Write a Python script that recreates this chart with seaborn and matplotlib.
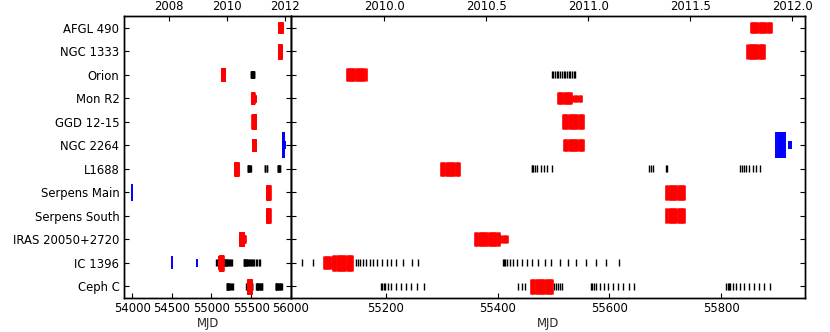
import numpy as np
import pandas as pd
import matplotlib
matplotlib.use("Agg")
import matplotlib.pyplot as plt
import seaborn as sns

# ---------------- data ----------------
regions = ["AFGL 490", "NGC 1333", "Orion", "Mon R2", "GGD 12-15", "NGC 2264",
           "L1688", "Serpens Main", "Serpens South", "IRAS 20050+2720",
           "IC 1396", "Ceph C"]

afgl490_red = [55853, 55855, 55857, 55859, 55861, 55863, 55865, 55867, 55869,
               55871, 55873, 55875, 55877, 55879, 55881, 55883, 55885, 55887, 55889]
ngc1333_red = [55847, 55849, 55851, 55853, 55855, 55857, 55859, 55861, 55863,
               55865, 55867, 55869, 55871, 55873, 55875, 55877]
orion_red = [55130, 55132, 55134, 55136, 55138, 55140, 55142, 55144, 55146,
             55148, 55150, 55152, 55154, 55156, 55158, 55160, 55162, 55164]
orion_black = [55497, 55500, 55503, 55506, 55509, 55512, 55515, 55518, 55521,
               55524, 55527, 55530, 55533, 55536, 55539]
monr2_red_a = [55508, 55510, 55512, 55514, 55516, 55518, 55520, 55522, 55524,
               55526, 55528, 55530, 55532]
monr2_red_b = [55535, 55538, 55541, 55544, 55547, 55550]
ggd_red = [55517, 55519, 55521, 55523, 55525, 55527, 55529, 55531, 55533,
           55535, 55537, 55539, 55541, 55543, 55545, 55547, 55549, 55551, 55553]
ngc2264_red = [55519, 55521, 55523, 55525, 55527, 55529, 55531, 55533, 55535,
               55537, 55539, 55541, 55543, 55545, 55547, 55549, 55551, 55553]
ngc2264_blue_a = [55899, 55901, 55903, 55905, 55907, 55909, 55911, 55913, 55915]
ngc2264_blue_b = [55921, 55923, 55925]
l1688_red = [55299, 55301, 55303, 55305, 55307, 55309, 55311, 55313, 55315,
             55317, 55319, 55321, 55323, 55325, 55327, 55329, 55331]
l1688_black = [55461, 55462.5, 55464, 55466.5, 55471, 55477, 55483, 55489, 55497,
               55671, 55674, 55678, 55701, 55703,
               55834.5, 55837.5, 55840.5, 55844.5, 55850.5, 55856.5, 55862.5, 55870]
serpmain_red = [55702, 55704, 55706, 55708, 55710, 55712, 55714, 55716, 55718,
                55720, 55722, 55724, 55726, 55728, 55730, 55732, 55734]
serpmain_blue = [54002]
serpsouth_red = [55702, 55704, 55706, 55708, 55710, 55712, 55714, 55716, 55718,
                 55720, 55722, 55724, 55726, 55728, 55730, 55732, 55734]
iras_red_a = [55360, 55362, 55364, 55366, 55368, 55370, 55372, 55374, 55376,
              55378, 55380, 55382, 55384, 55386, 55388, 55390, 55392, 55394,
              55396, 55398, 55400, 55402]
iras_red_b = [55405, 55408, 55411, 55414, 55417]
ic1396_blue_a = [54498]
ic1396_blue_b = [54821]
ic1396_red_a = [55089, 55091, 55093, 55095, 55097, 55099, 55101, 55103]
ic1396_red_b = [55106, 55108, 55110, 55112, 55114, 55116, 55118, 55120, 55122,
                55124, 55126, 55128, 55130, 55132, 55134, 55136, 55138, 55140]
ic1396_black = [55051, 55070,
                55146.5, 55150, 55154, 55159, 55165, 55171, 55178, 55185, 55193,
                55202, 55209.5, 55218.5, 55231.5, 55246.5, 55258,
                55409, 55411.5, 55413.5, 55417, 55422, 55428, 55435, 55443,
                55452, 55462.5, 55472.5, 55484.5, 55496.5, 55511.5, 55526,
                55541, 55559, 55577, 55594.5, 55617]
cephc_red = [55460, 55462, 55464, 55466, 55468, 55470, 55472, 55474, 55476,
             55478, 55480, 55482, 55484, 55486, 55488, 55490, 55492, 55494,
             55496, 55498]
cephc_black = [55191.5, 55194, 55196.5, 55199, 55203.5, 55209.5, 55218.5,
               55227.5, 55236.5, 55245, 55255.5, 55269,
               55437, 55443, 55450,
               55500.5, 55504, 55507.5, 55511.5, 55515.5,
               55566.5, 55569.5, 55572.5, 55577, 55582.5, 55590, 55597.5,
               55606.5, 55615.5, 55624.5, 55634.5, 55644,
               55809, 55811.5, 55813.5, 55816.5, 55820.5, 55827, 55834,
               55841.5, 55850.5, 55859.5, 55868.5, 55877.5, 55886.5]

left_mjd_ticks = [54000, 54500, 55000, 55500, 56000]
right_mjd_ticks = [55200, 55400, 55600, 55800]
left_year_ticks = [2008, 2010, 2012]
right_year_ticks = [2010.0, 2010.5, 2011.0, 2011.5, 2012.0]

# ---------------- styling table (region, colour, marker size pt, dates) -----
groups = [
    ("AFGL 490", "red", 7.8, afgl490_red),
    ("NGC 1333", "red", 10.5, ngc1333_red),
    ("Orion", "red", 9.5, orion_red),
    ("Orion", "black", 5.0, orion_black),
    ("Mon R2", "red", 8.6, monr2_red_a),
    ("Mon R2", "red", 5.0, monr2_red_b),
    ("GGD 12-15", "red", 10.5, ggd_red),
    ("NGC 2264", "red", 8.8, ngc2264_red),
    ("NGC 2264", "blue", 19.0, ngc2264_blue_a),
    ("NGC 2264", "blue", 6.0, ngc2264_blue_b),
    ("L1688", "red", 10.0, l1688_red),
    ("L1688", "black", 5.0, l1688_black),
    ("Serpens Main", "red", 10.5, serpmain_red),
    ("Serpens Main", "blue", 12.0, serpmain_blue),
    ("Serpens South", "red", 10.5, serpsouth_red),
    ("IRAS 20050+2720", "red", 10.0, iras_red_a),
    ("IRAS 20050+2720", "red", 6.0, iras_red_b),
    ("IC 1396", "blue", 9.5, ic1396_blue_a),
    ("IC 1396", "blue", 6.0, ic1396_blue_b),
    ("IC 1396", "red", 9.5, ic1396_red_a),
    ("IC 1396", "red", 11.2, ic1396_red_b),
    ("IC 1396", "black", 5.0, ic1396_black),
    ("Ceph C", "red", 10.8, cephc_red),
    ("Ceph C", "black", 5.0, cephc_black),
]

rows = []
for reg, col, ms, dates in groups:
    for d in dates:
        rows.append({"mjd": d, "y": regions.index(reg), "color": col, "ms": ms})
df = pd.DataFrame(rows)

line_w = {"red": 1.9, "black": 1.0, "blue": 1.4}


def mjd_from_year(yr):
    return 51544.5 + (yr - 2000.0) * 365.25


sns.set_style("ticks")
plt.rcParams["font.family"] = ["DejaVu Sans"]
FS = 8.4
plt.rcParams.update({
    "xtick.direction": "in", "ytick.direction": "in",
    "xtick.major.size": 3.5, "ytick.major.size": 3.5,
    "xtick.major.width": 0.8, "ytick.major.width": 0.8,
    "axes.linewidth": 1.0, "axes.edgecolor": "black",
    "xtick.color": "black", "ytick.color": "black",
    "xtick.labelsize": FS, "ytick.labelsize": FS, "axes.labelsize": FS,
})

fig = plt.figure(figsize=(8.3, 3.32), dpi=100)
b = 1 - 298 / 332
h = (298 - 16) / 332
ax1 = fig.add_axes([124.3 / 830, b, (290.7 - 124.3) / 830, h])
ax2 = fig.add_axes([290.7 / 830, b, (805 - 290.7) / 830, h])

for ax, xlim in ((ax1, (53900, 56000)), (ax2, (55030, 55950))):
    for col in ("black", "red", "blue"):
        sub = df[df["color"] == col]
        uniq = sorted(sub["ms"].unique())
        sns.scatterplot(data=sub, x="mjd", y="y", size="ms",
                        sizes={v: v * v for v in uniq}, color=col,
                        marker="|", linewidth=line_w[col], legend=False,
                        ax=ax, zorder=3 if col != "black" else 2)
    ax.set_xlim(*xlim)
    ax.set_ylim(len(regions) - 0.5, -0.5)
    ax.set_yticks(range(len(regions)))
    ax.set_xlabel("MJD", fontsize=FS, labelpad=1)
    ax.set_ylabel("")
    ax.tick_params(axis="y", left=True, right=True)
    ax.tick_params(axis="x", bottom=True, top=False, pad=3)

ax1.set_yticklabels(regions)
ax2.set_yticklabels([])
ax1.set_xticks(left_mjd_ticks)
ax1.set_xticklabels([str(t) for t in left_mjd_ticks])
ax2.set_xticks(right_mjd_ticks)
ax2.set_xticklabels([str(t) for t in right_mjd_ticks])

for ax, yrs, fmt in ((ax1, left_year_ticks, "{:d}"), (ax2, right_year_ticks, "{:.1f}")):
    top = ax.twiny()
    top.set_xlim(ax.get_xlim())
    top.set_xticks([mjd_from_year(y) for y in yrs])
    top.set_xticklabels([fmt.format(y) for y in yrs])
    top.tick_params(axis="x", direction="in", labelsize=FS, pad=2)

fig.savefig("out.png", dpi=100)
